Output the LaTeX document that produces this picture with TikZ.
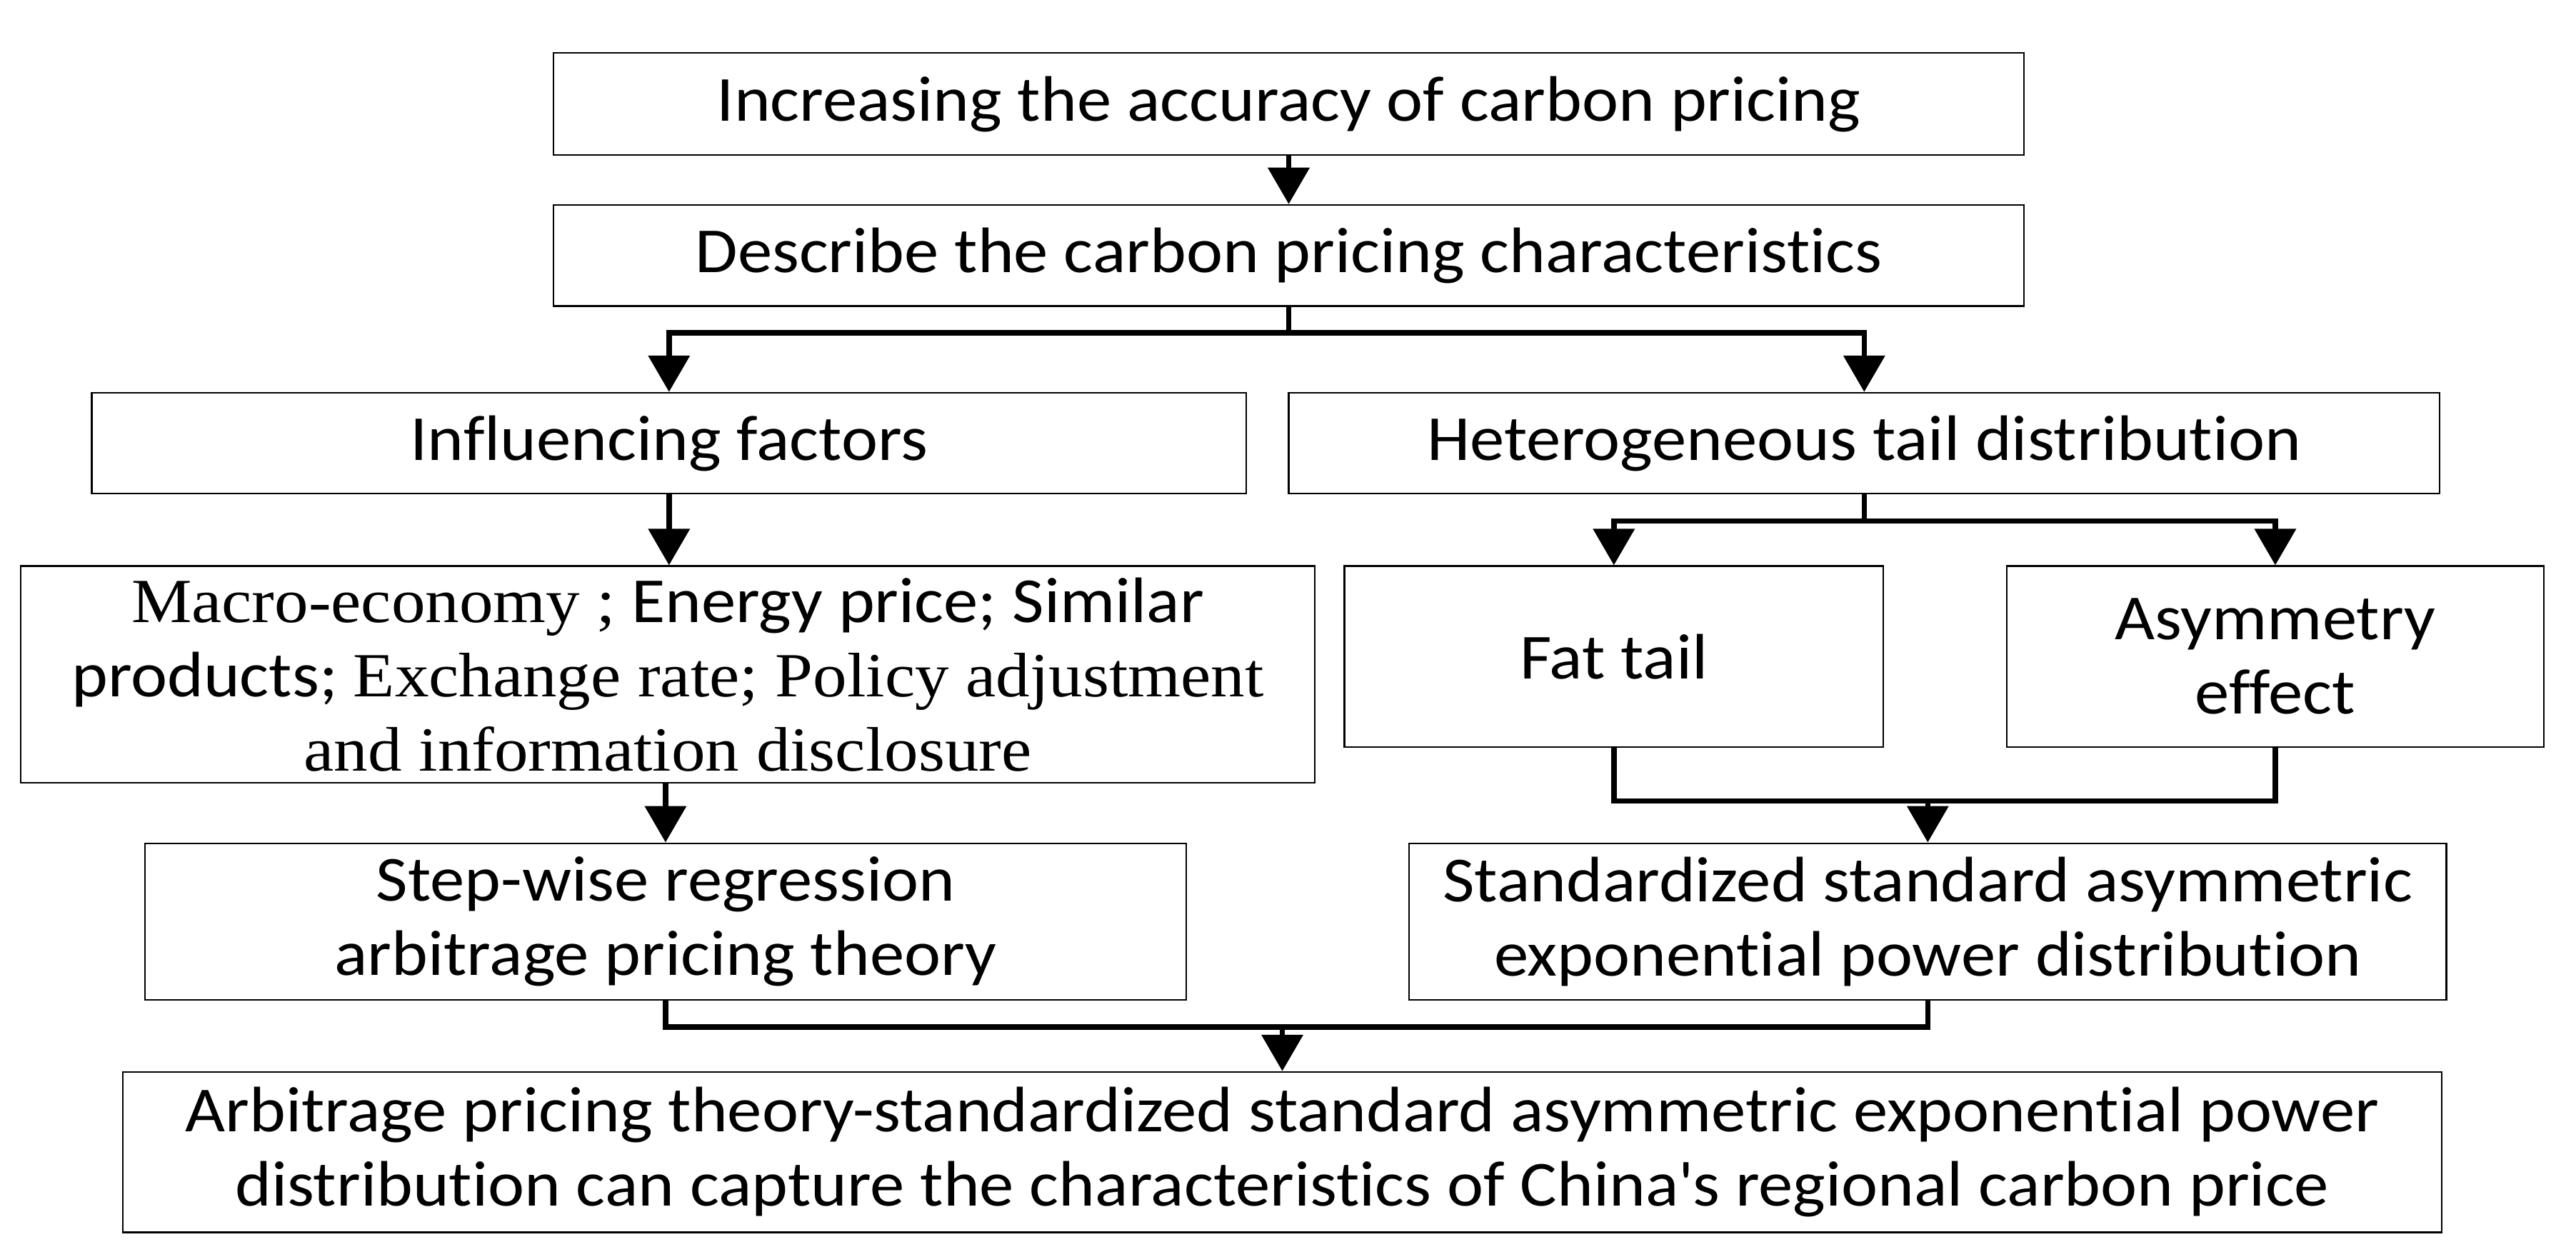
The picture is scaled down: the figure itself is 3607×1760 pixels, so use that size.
\documentclass[tikz,border=0pt]{standalone}
\usepackage{fontspec}
\setmainfont[FakeStretch=1.075,Ligatures={TeX,NoCommon}]{Carlito}
\newfontfamily\tnr[FakeStretch=1.08,Ligatures={TeX,NoCommon}]{Liberation Serif}
\usetikzlibrary{arrows.meta}
\newcommand\tnrtxt[1]{{\tnr\fontsize{88}{104}\selectfont #1}}
\begin{document}
\begin{tikzpicture}[x=1pt,y=-1pt,
  box/.style={draw,line width=2.5pt,inner sep=0pt,align=center,font=\fontsize{90}{104}\selectfont},
  conn/.style={line width=7.5pt},
  arr/.style={conn,-{Triangle[length=51pt,width=57pt]}}]
\fill[white] (0,0) rectangle (3607,1760);
\useasboundingbox (0,0) rectangle (3607,1760);

\node[box,minimum width=2059pt,minimum height=143pt] (b1) at (1804.5,145.5) {Increasing the accuracy of carbon pricing};
\node[box,minimum width=2059pt,minimum height=141.6pt] (b2) at (1804.5,357.8) {Describe the carbon pricing characteristics};
\node[box,minimum width=1616.4pt,minimum height=141pt] (b3) at (936.8,620.5) {Influencing factors};
\node[box,minimum width=1611.4pt,minimum height=141pt] (b4) at (2610.3,620.5) {Heterogeneous tail distribution};
\node[box,minimum width=1812pt,minimum height=303.4pt] (b5) at (935,944.3) {\tnrtxt{Macro-economy ;} Energy price; Similar\\ products; \tnrtxt{Exchange rate; Policy adjustment}\\ \tnrtxt{and information disclosure}};
\node[box,minimum width=754.4pt,minimum height=253.4pt] (b6) at (2259.8,919.3) {Fat tail};
\node[box,minimum width=751.7pt,minimum height=253.4pt] (b7) at (3185.9,919.3) {Asymmetry\\effect};
\node[box,minimum width=1457.7pt,minimum height=219.3pt] (b8) at (931.9,1290.4) {Step-wise regression\\arbitrage pricing theory};
\node[box,minimum width=1452.5pt,minimum height=219.3pt] (b9) at (2699.3,1290.4) {Standardized standard asymmetric\\exponential power distribution};
\node[box,minimum width=3247pt,minimum height=224.6pt] (b10) at (1795.5,1613.3) {Arbitrage pricing theory-standardized standard asymmetric exponential power\\distribution can capture the characteristics of China\textquotesingle s regional carbon price};

\coordinate (j1) at (1804.5,466);
\coordinate (j2) at (2610.3,729.4);
\coordinate (j3) at (2699.3,1121.5);
\coordinate (j4) at (1795.5,1438);

\draw[arr] (b1.south) -- (b2.north);
\draw[arr] (b2.south) -- (j1) -| (b3.north);
\draw[arr] (j1) -| (b4.north);
\draw[arr] (b3.south) -- (b3.south |- b5.north);
\draw[arr] (b8.north |- b5.south) -- (b8.north);
\draw[arr] (b4.south) -- (j2) -| (b6.north);
\draw[arr] (j2) -| (b7.north);
\draw[conn] (b6.south) |- (j3 -| b7.south) -- (b7.south);
\draw[arr] (j3) -- (b9.north);
\draw[conn] (b8.south) |- (j4 -| b9.south) -- (b9.south);
\draw[arr] (j4) -- (b10.north);
\end{tikzpicture}
\end{document}
